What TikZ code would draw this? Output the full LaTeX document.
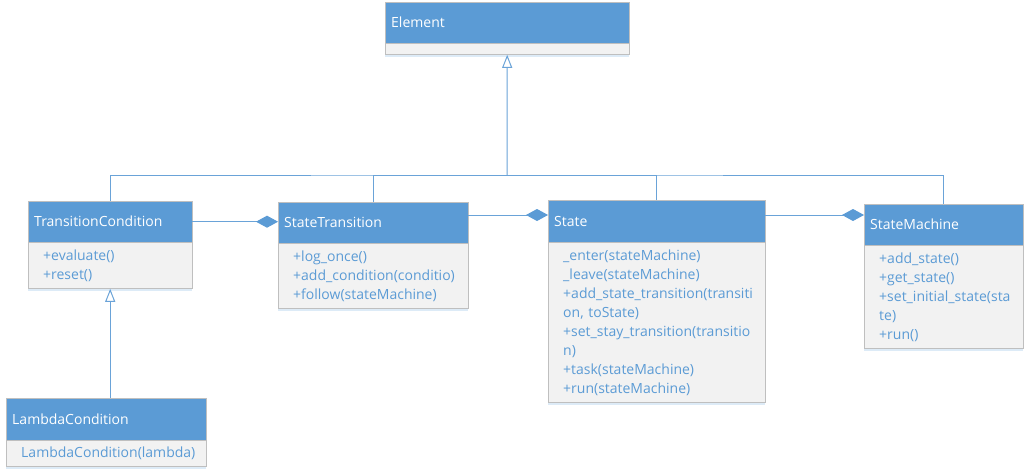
\documentclass[tikz,border=0pt]{standalone}
\usepackage{fontspec}
\setmainfont{Open Sans}
\usetikzlibrary{arrows.meta,shadows,calc}
\definecolor{hdrblue}{HTML}{5B9BD5}
\definecolor{boxgrey}{HTML}{BFBFBF}
\definecolor{bodygrey}{HTML}{F2F2F2}
\definecolor{txtblue}{HTML}{5B9BD5}
\definecolor{lineblue}{HTML}{6AA3D8}
\definecolor{shadowblue}{HTML}{DDEBF7}
\begin{document}
\begin{tikzpicture}[x=1pt,y=-1pt,
 hdr/.style={draw=boxgrey, fill=hdrblue, text=white, anchor=north west, inner xsep=0pt, inner ysep=0pt,
   minimum height=41pt, font=\fontsize{14}{19}\selectfont, align=left, execute at begin node={\leftskip=6pt}},
 bdy/.style={draw=boxgrey, fill=bodygrey, text=txtblue, anchor=north west, inner xsep=0pt, inner ysep=0pt,
   font=\fontsize{14}{19}\selectfont, align=left, execute at begin node={\leftskip=15pt},
   drop shadow={shadow xshift=0pt, shadow yshift=-2pt, fill=shadowblue, opacity=1}},
 conn/.style={draw=lineblue, line width=1pt},
 agg/.style={conn, -{Diamond[length=22pt,width=12pt,fill=hdrblue,color=hdrblue]}},
 gen/.style={conn, -{Triangle[open,length=13pt,width=10pt,fill=white]}}
]
\fill[white] (0,0) rectangle (1027,471);
\useasboundingbox (0,0) rectangle (1027,471);

% Element
\node[hdr, text width=244pt] (elh) at (385,2) {Element};
\node[bdy, text width=244pt, minimum height=11pt] (elb) at (elh.south west) {};

% TransitionCondition
\node[hdr, text width=164pt] (tch) at (28,201) {TransitionCondition};
\node[bdy, text width=164pt, minimum height=46pt] (tcb) at (tch.south west) {+evaluate()\\+reset()};

% StateTransition
\node[hdr, text width=190pt] (sth) at (278,202) {StateTransition};
\node[bdy, text width=190pt, minimum height=65pt] (stb) at (sth.south west) {+log\_once()\\+add\_condition(conditio)\\+follow(stateMachine)};

% State
\node[hdr, text width=217pt, minimum height=42pt] (sh) at (548,200) {State};
\node[bdy, text width=217pt, minimum height=160pt] (sb) at (sh.south west) {\_enter(stateMachine)\\\_leave(stateMachine)\\+add\_state\_transition(transiti\\on, toState)\\+set\_stay\_transition(transitio\\n)\\+task(stateMachine)\\+run(stateMachine)};

% StateMachine
\node[hdr, text width=159pt] (smh) at (864,204) {StateMachine};
\node[bdy, text width=159pt, minimum height=103pt] (smb) at (smh.south west) {+add\_state()\\+get\_state()\\+set\_initial\_state(sta\\te)\\+run()};

% LambdaCondition
\node[hdr, text width=200pt, minimum height=42pt] (lch) at (6,398) {LambdaCondition};
\node[bdy, text width=200pt, minimum height=26pt] (lcb) at (lch.south west) {LambdaCondition(lambda)};

% aggregations
\draw[agg] (tch.east) -- (tch.east -| sth.west);
\coordinate (stR) at ($(sth.north east)+(0,13)$);
\draw[agg] (stR) -- (stR -| sh.west);
\coordinate (sR) at ($(sh.north east)+(0,15)$);
\draw[agg] (sR) -- (sR -| smh.west);

% generalizations
\coordinate (j) at (507,175);
\draw[conn] (tch.north) |- (j) -| (smh.north);
\draw[conn] (sth.north) |- (j);
\draw[conn] (sh.north) |- (j);
\draw[gen] (j) -- (elb.south);
\draw[gen] (tcb.south |- lch.north) -- (tcb.south);
\end{tikzpicture}
\end{document}
